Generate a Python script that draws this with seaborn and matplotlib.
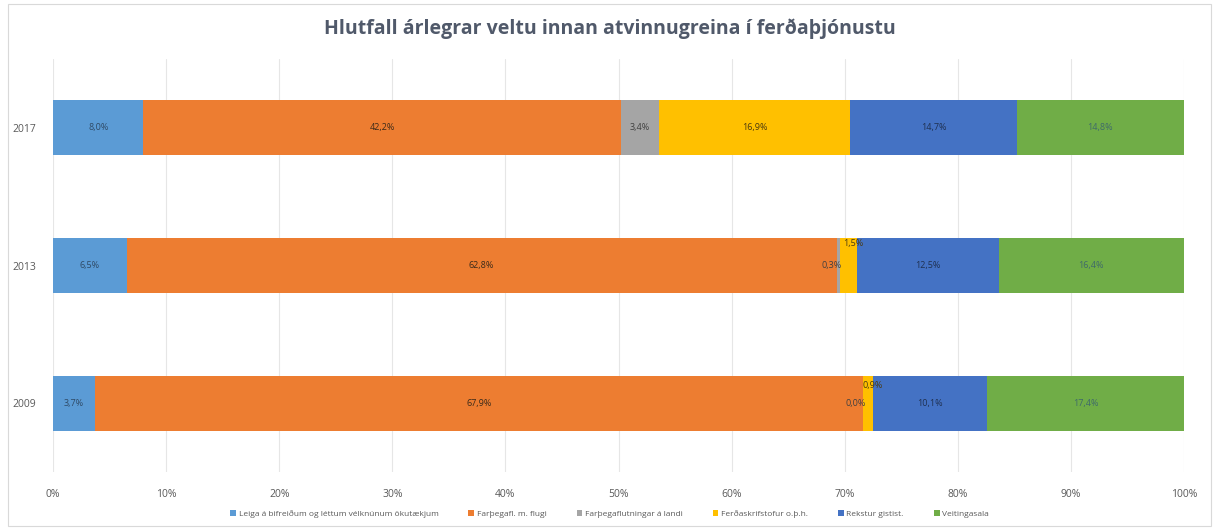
import numpy as np
import pandas as pd
import matplotlib
matplotlib.use("Agg")
import matplotlib.pyplot as plt
import seaborn as sns
from matplotlib.patches import Rectangle, Patch

years = ["2017", "2013", "2009"]
series = [
    "Leiga á bifreiðum og léttum vélknúnum ökutækjum",
    "Farþegafl. m. flugi",
    "Farþegaflutningar á landi",
    "Ferðaskrifstofur o.þ.h.",
    "Rekstur gistist.",
    "Veitingasala",
]
leiga = [8.0, 6.5, 3.7]
flug = [42.2, 62.8, 67.9]
landi = [3.4, 0.3, 0.0]
ferda = [16.9, 1.5, 0.9]
gisti = [14.7, 12.5, 10.1]
veit = [14.8, 16.4, 17.4]
values = [leiga, flug, landi, ferda, gisti, veit]
colors = ["#5B9BD5", "#ED7D31", "#A5A5A5", "#FFC000", "#4472C4", "#70AD47"]
label_colors = ["#2f4a66", "#3a2a1a", "#404040", "#4a3a10", "#1f3050", "#3f6a6a"]

sns.set_theme(style="white")
plt.rcParams["font.family"] = ["Open Sans", "DejaVu Sans"]

fig = plt.figure(figsize=(12.19, 5.28), dpi=100)
ax = fig.add_axes([53 / 1219, 1 - 472 / 528, (1184 - 53) / 1219, (472 - 59) / 528])

vals = np.array(values)  # series x years
cum = np.cumsum(vals, axis=0)
for i in range(len(series) - 1, -1, -1):
    df = pd.DataFrame({"year": years, "v": cum[i] / 100.0})
    sns.barplot(data=df, x="v", y="year", order=years, orient="h", color=colors[i],
                saturation=1, width=0.4, ax=ax, linewidth=0)

ax.set_xlim(0, 1)
ax.set_ylim(2.5, -0.5)
ax.set_xticks(np.arange(0, 1.01, 0.1))
ax.set_xticklabels([f"{int(t)}%" for t in range(0, 101, 10)], fontsize=7.5, color="#595959")
ax.set_yticks(range(3))
ax.set_yticklabels(years, fontsize=7.5, color="#595959")
ax.tick_params(axis="x", pad=12, length=0)
ax.tick_params(axis="y", pad=12, length=0)
ax.set_xlabel("")
ax.set_ylabel("")
ax.grid(axis="x", color="#E6E6E6", linewidth=0.8)
ax.set_axisbelow(True)
for s in ax.spines.values():
    s.set_visible(False)

def fmt(v):
    return f"{v:.1f}%".replace(".", ",")

for j, yr in enumerate(years):
    for i in range(len(series)):
        v = vals[i, j]
        center = (cum[i, j] - v / 2) / 100.0
        dy = 0.0
        dx = 0.0
        if v < 1.0 and i == 2:
            dx = -0.006
        if v < 2.0 and i == 3:
            dy = -0.16 if j == 1 else -0.13
            dx = 0.004
        ax.text(center + dx, j + dy, fmt(v), ha="center", va="center",
                fontsize=6.5, color=label_colors[i])

fig.suptitle("Hlutfall árlegrar veltu innan atvinnugreina í ferðaþjónustu",
             x=0.5, y=0.965, fontsize=14, fontweight="bold", color="#50596a",
             family=["Open Sans", "DejaVu Sans"])

handles = [Patch(facecolor=c, edgecolor="none") for c in colors]
fig.legend(handles, series, loc="lower center", bbox_to_anchor=(0.5, 0.005), ncol=6,
           frameon=False, fontsize=6, labelcolor="#595959", handlelength=0.7,
           handleheight=0.7, handletextpad=0.3, columnspacing=3.6)

fig.patches.append(Rectangle((8 / 1219, 2 / 528), 1203 / 1219, 1 - 6 / 528,
                             transform=fig.transFigure, fill=False,
                             edgecolor="#D9D9D9", linewidth=0.8))

fig.savefig("out.png", dpi=100, facecolor="white")
